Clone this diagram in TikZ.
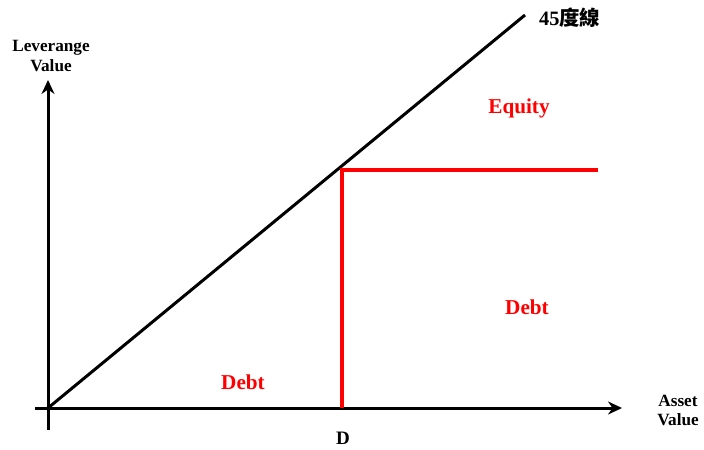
\documentclass[tikz,border=0pt]{standalone}
\usepackage{fontspec}
\setmainfont{Liberation Serif}
\newfontfamily\cjkfont{Noto Sans CJK TC}
\usepackage{xcolor}
\usetikzlibrary{arrows.meta}

\begin{document}
\begin{tikzpicture}[x=0.5pt, y=-0.5pt,
    axis/.style={line width=1.5pt, -{Stealth[length=7pt,width=6.5pt]}},
    lbl/.style={font=\fontsize{8.6}{9.5}\selectfont\bfseries, align=center},
    rlbl/.style={font=\fontsize{10.6}{12}\selectfont\bfseries, text=red}]
  \useasboundingbox (0,0) rectangle (704,449);
  \coordinate (O) at (48,408);
  \coordinate (X) at (622,408);
  \coordinate (Y) at (48,80);
  \coordinate (L) at (525,15);
  \coordinate (K) at (342,170);
  \coordinate (Kd) at (342,408);
  \coordinate (E) at (598,170);
  % axes
  \draw[axis] (35,408) -- (X);
  \draw[axis] (48,430) -- (Y);
  % 45 degree line
  \draw[line width=1.5pt] (O) -- (L);
  % payoff
  \draw[red, line width=1.6pt] (Kd) -- (K) -- (E);
  \node[lbl] (ylab) at (51,56) {Leverange\\Value};
  \node[lbl] (xlab) at (678,410) {Asset\\Value};
  \node[font=\fontsize{10.2}{12}\selectfont\bfseries, anchor=west] (line45) at (532,18) {45{\cjkfont 度線}};
  \node[font=\fontsize{9.5}{11}\selectfont\bfseries] (dlab) at (343,438) {D};
  \node[rlbl] (equity) at (519,108) {Equity};
  \node[rlbl] (debtr) at (527,307) {Debt};
  \node[rlbl] (debtl) at (243,382) {Debt};
\end{tikzpicture}
\end{document}
